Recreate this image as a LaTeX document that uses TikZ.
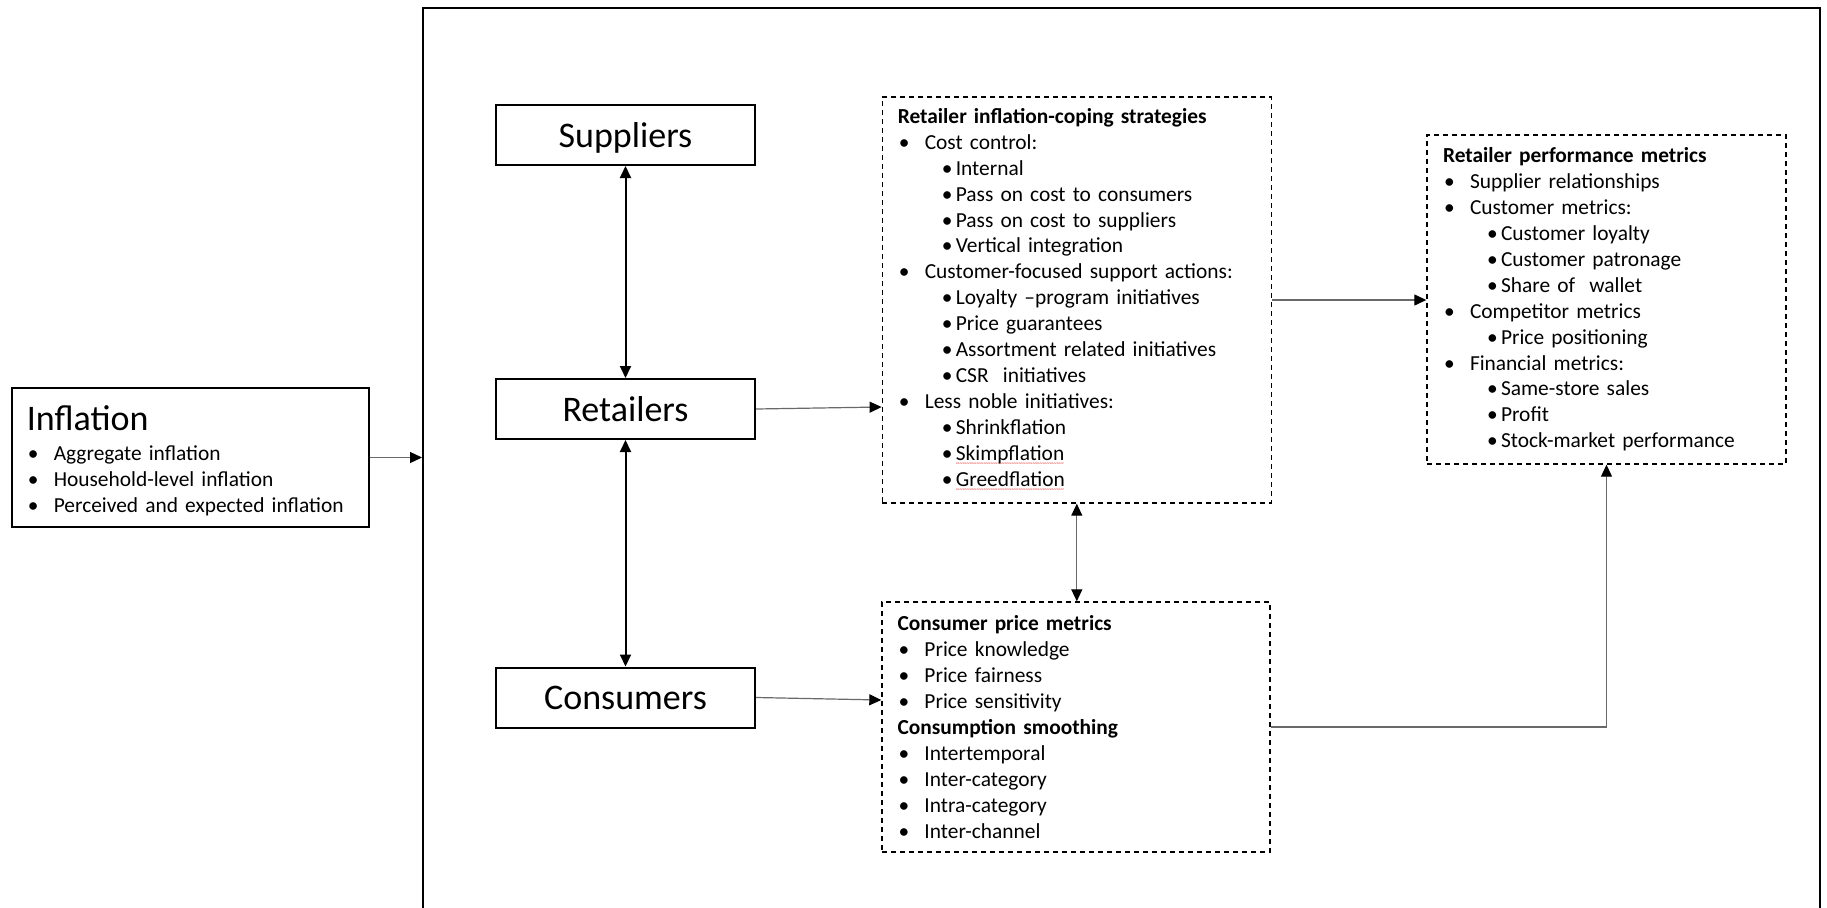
\documentclass[tikz,border=0pt]{standalone}
\usepackage{fontspec}
\setmainfont{Carlito}
\usetikzlibrary{arrows.meta,positioning}
\definecolor{linkgray}{RGB}{105,105,105}
\definecolor{spellred}{RGB}{230,40,40}

\newsavebox{\wavebox}
\newcommand{\redwave}[1]{\sbox{\wavebox}{#1}%
  \rlap{\raisebox{-5.5pt}{\textcolor{spellred}{\fontsize{7}{7}\selectfont
    \leaders\hbox{\char"7E}\hskip\wd\wavebox}}}\usebox{\wavebox}}
\newcommand{\lvlone}[1]{\makebox[27pt][l]{\hspace{1pt}\textbullet}#1}
\newcommand{\lvltwo}[1]{\makebox[58pt][l]{\hspace{44pt}\textbullet}#1}

\begin{document}
\begin{tikzpicture}[x=1pt, y=-1pt, >={Triangle[length=12pt,width=11pt,color=black]},
  solidbox/.style={draw, line width=2pt, minimum width=259pt, minimum height=60pt,
    inner sep=0pt, text depth=0pt, font=\fontsize{36}{40}\selectfont},
  listbox/.style={draw, line width=1.4pt, dash pattern=on 5pt off 4pt, inner xsep=15.5pt,
    inner ysep=0pt, align=left, font=\fontsize{21.4}{25.9}\selectfont},
  link/.style={->, draw=linkgray, line width=1.2pt},
  duplex/.style={<->, line width=2pt}]
  \useasboundingbox (0,0) rectangle (1827,907);
  % outer frame, open at the bottom of the page
  \node[draw, line width=2pt, minimum width=1397pt, minimum height=930pt, inner sep=0pt]
    (frame) at (1121.5,473) {};
  % inflation
  \node[draw, line width=2pt, text width=327pt, inner xsep=15pt, inner ysep=0pt,
    minimum height=139pt, align=left, font=\fontsize{21.4}{26}\selectfont]
    (infl) at (190.3,457.5) {{\fontsize{36}{40}\selectfont\rule{0pt}{32pt}Inflation}\\[4pt]
    \lvlone{Aggregate inflation}\\
    \lvlone{Household-level inflation}\\
    \lvlone{Perceived and expected inflation}};
  % actors
  \node[solidbox] (sup) at (625.5,135) {Suppliers};
  \node[solidbox] (ret) at (625.5,409) {Retailers};
  \node[solidbox] (con) at (625.5,697.5) {Consumers};
  % strategies
  \node[listbox, text width=358pt, minimum height=406pt] (strat) at (1076.8,300) {%
    \textbf{Retailer inflation-coping strategies}\\
    \lvlone{Cost control:}\\
    \lvltwo{Internal}\\
    \lvltwo{Pass on cost to consumers}\\
    \lvltwo{Pass on cost to suppliers}\\
    \lvltwo{Vertical integration}\\
    \lvlone{Customer-focused support actions:}\\
    \lvltwo{Loyalty –program initiatives}\\
    \lvltwo{Price guarantees}\\
    \lvltwo{Assortment related initiatives}\\
    \lvltwo{CSR\ \ initiatives}\\
    \lvlone{Less noble initiatives:}\\
    \lvltwo{Shrinkflation}\\
    \lvltwo{\redwave{Skimpflation}}\\
    \lvltwo{\redwave{Greedflation}}};
  % performance
  \node[listbox, text width=327pt, inner xsep=16pt, minimum height=329pt]
    (perf) at (1606.5,299.5) {%
    \textbf{Retailer performance metrics}\\
    \lvlone{Supplier relationships}\\
    \lvlone{Customer metrics:}\\
    \lvltwo{Customer loyalty}\\
    \lvltwo{Customer patronage}\\
    \lvltwo{Share of\ \ wallet}\\
    \lvlone{Competitor metrics}\\
    \lvltwo{Price positioning}\\
    \lvlone{Financial metrics:}\\
    \lvltwo{Same-store sales}\\
    \lvltwo{Profit}\\
    \lvltwo{Stock-market performance}};
  % consumer side
  \node[listbox, text width=357pt, minimum height=250pt] (cpm) at (1076,727) {%
    \textbf{Consumer price metrics}\\
    \lvlone{Price knowledge}\\
    \lvlone{Price fairness}\\
    \lvlone{Price sensitivity}\\
    \textbf{Consumption smoothing}\\
    \lvlone{Intertemporal}\\
    \lvlone{Inter-category}\\
    \lvlone{Intra-category}\\
    \lvlone{Inter-channel}};
  % connectors
  \draw[duplex] (sup) -- (ret);
  \draw[duplex] (ret) -- (con);
  \draw[link] (infl.east) -- (infl.east -| frame.west);
  \draw[link] (ret.east) -- ([yshift=2pt]ret.east -| strat.west);
  \draw[link] (con.east) -- ([yshift=-2.5pt]con.east -| cpm.west);
  \draw[link, <->] (strat.south) -- (strat.south |- cpm.north);
  \draw[link] (strat.east) -- (strat.east -| perf.west);
  \draw[link] (cpm.east) -| (perf.south);
\end{tikzpicture}
\end{document}
